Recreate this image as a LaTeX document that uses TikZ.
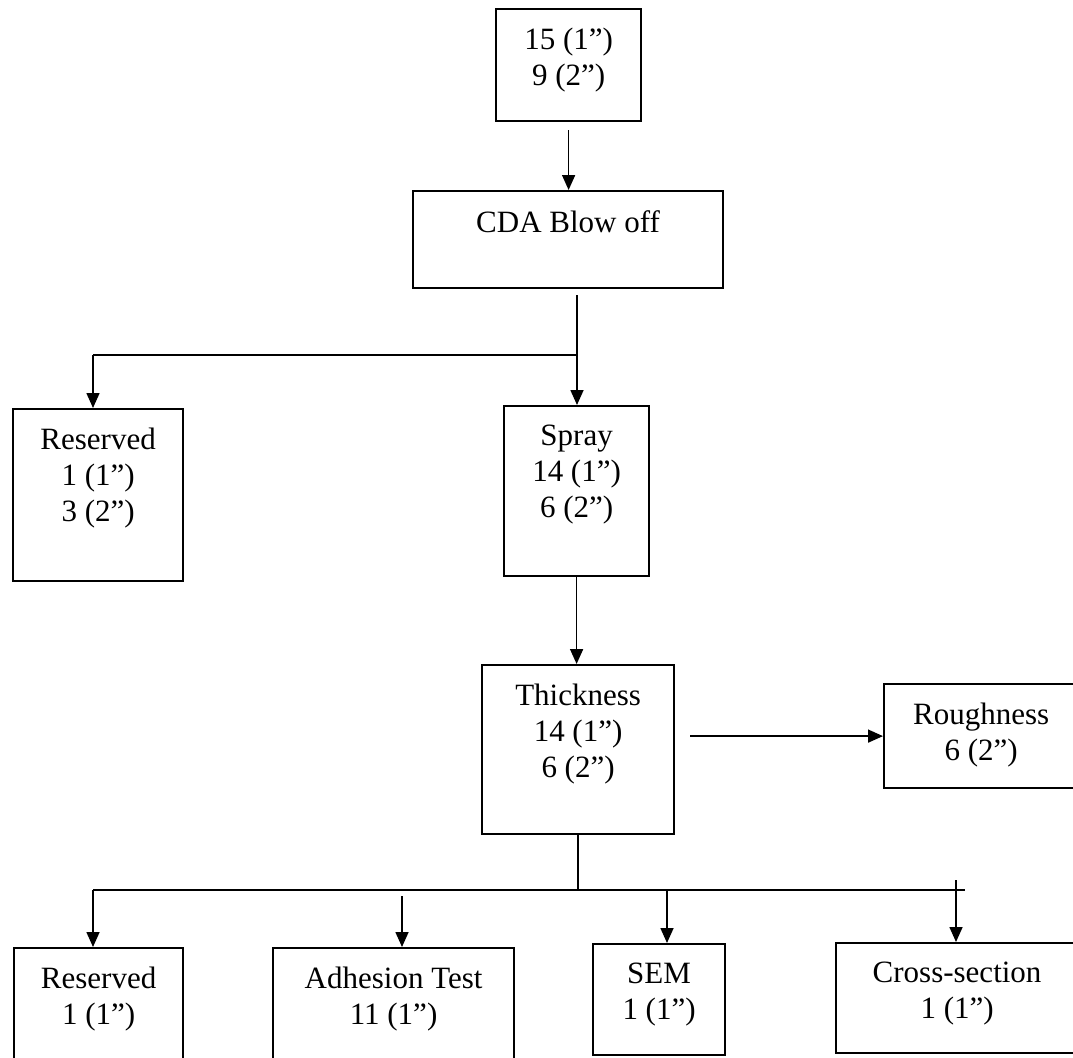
\documentclass[tikz,border=0pt]{standalone}
\usepackage{fontspec}
\setmainfont{Liberation Serif}
\usetikzlibrary{arrows.meta}
\tikzset{
  box/.style={draw, line width=2.2pt, anchor=north west, inner sep=0pt},
  txt/.style={anchor=north, align=center, inner sep=0pt, yshift=-20pt},
  line/.style={line width=1.6pt},
  arr/.style={line, -{Triangle[length=15pt,width=13pt]}}
}
\begin{document}
\begin{tikzpicture}[x=1pt,y=-1pt,font=\fontsize{31}{36}\selectfont]
\useasboundingbox (0,0) rectangle (1073,1057);
% boxes
\node[box, minimum width=145, minimum height=112, label={[txt]north:{15 (1”)\\9 (2”)}}] (top) at (495,8) {};
\node[box, minimum width=310, minimum height=97, label={[txt]north:CDA Blow off}] (cda) at (412,190) {};
\node[box, minimum width=170, minimum height=172, label={[txt]north:{Reserved\\1 (1”)\\3 (2”)}}] (res) at (12,408) {};
\node[box, minimum width=145, minimum height=170, label={[txt]north:{Spray\\14 (1”)\\6 (2”)}}] (spray) at (503,405) {};
\node[box, minimum width=192, minimum height=169, label={[txt]north:{Thickness\\14 (1”)\\6 (2”)}}] (thick) at (481,664) {};
\node[box, minimum width=194, minimum height=104, label={[txt]north:{Roughness\\6 (2”)}}] (rough) at (883,683) {};
\node[box, minimum width=169, minimum height=125, label={[txt]north:{Reserved\\1 (1”)}}] (resb) at (13,947) {};
\node[box, minimum width=241, minimum height=125, label={[txt]north:{Adhesion Test\\11 (1”)}}] (adh) at (272,947) {};
\node[box, minimum width=132, minimum height=111, label={[txt]north:{SEM\\1 (1”)}}] (sem) at (592,943) {};
\node[box, minimum width=242, minimum height=110, label={[txt]north:{Cross-section\\1 (1”)}}] (cross) at (835,942) {};
% branch points
\coordinate (split) at (577,355);
\coordinate (resin) at (93,355);
\coordinate (busl) at (93,890);
\coordinate (busr) at (965,890);
\coordinate (adhin) at (402,896);
\coordinate (semin) at (667,890);
\coordinate (crossin) at (956,880);
% connectors
\draw[arr, shorten <=8pt] (top.south) -- (top.south |- cda.north);
\draw[line, shorten <=6pt] (cda.south -| split) -- (split);
\draw[arr] (split) -- (split |- spray.north);
\draw[line] (split) -- (resin);
\draw[arr] (resin) -- (resin |- res.north);
\draw[arr] (spray.south) -- (spray.south |- thick.north);
\draw[arr, shorten <=15pt] (thick.east |- rough.west) -- (rough.west);
\draw[line] (thick.south) -- (thick.south |- busl);
\draw[line] (busl) -- (busr);
\draw[arr] (busl) -- (busl |- resb.north);
\draw[arr] (adhin) -- (adhin |- adh.north);
\draw[arr] (semin) -- (semin |- sem.north);
\draw[arr] (crossin) -- (crossin |- cross.north);
\end{tikzpicture}
\end{document}
